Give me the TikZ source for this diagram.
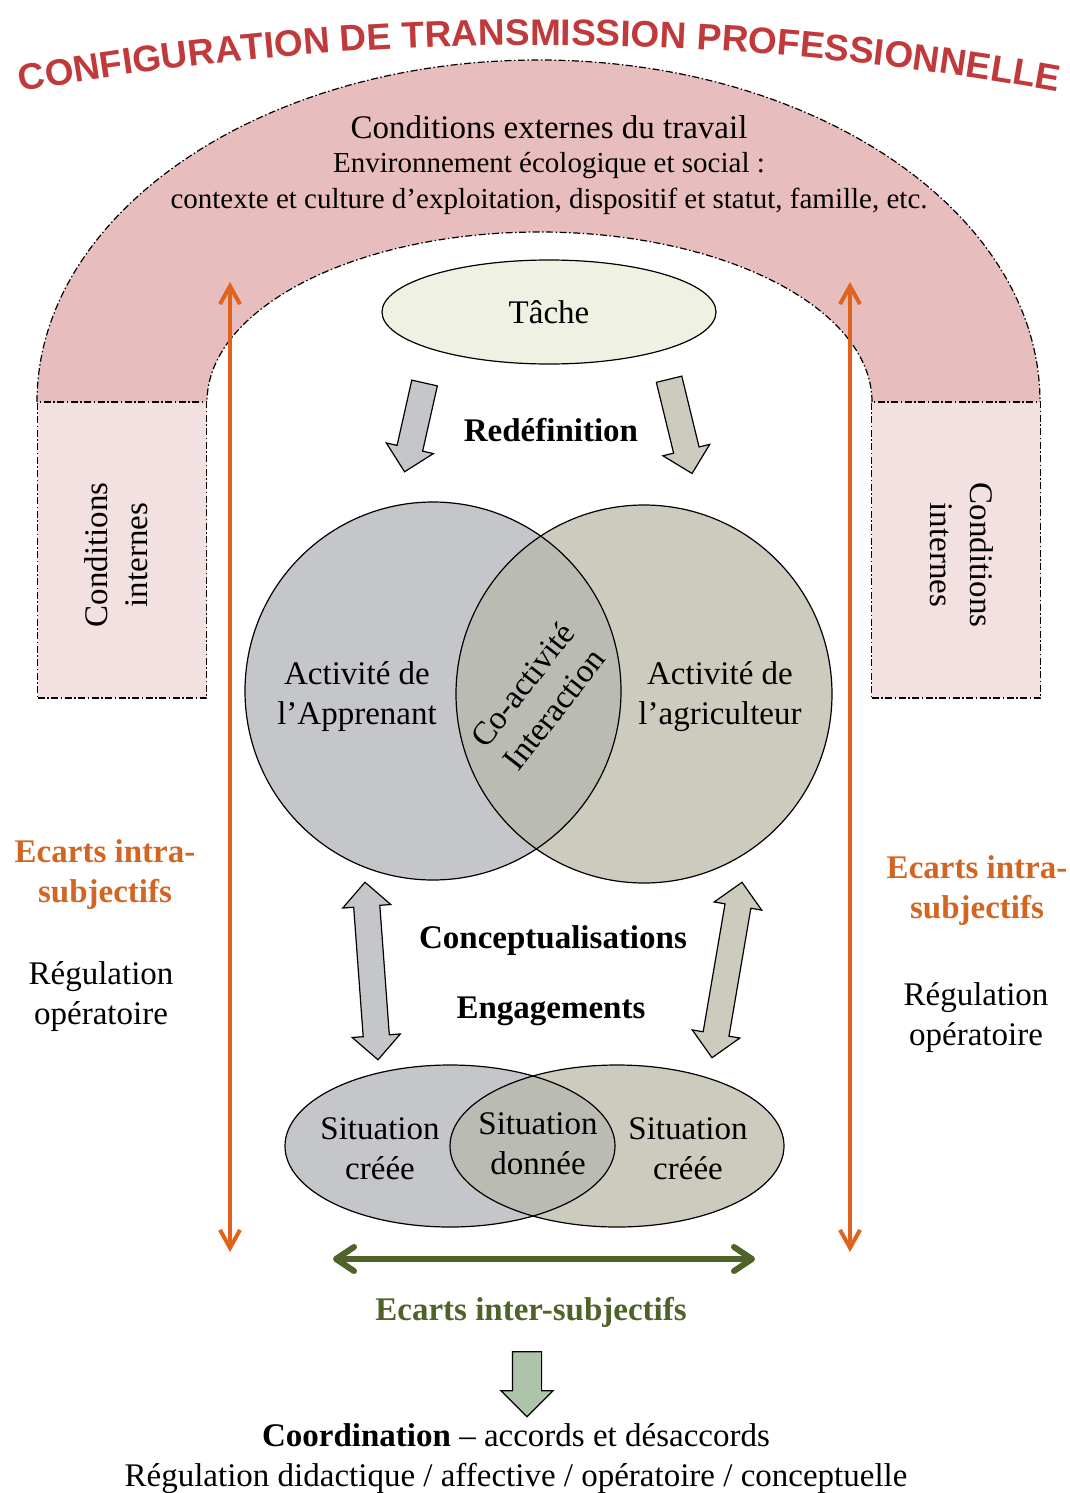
\documentclass[tikz,border=0pt]{standalone}
\usepackage{fontspec}
\setmainfont{Liberation Serif}
\newfontfamily\titlefont{Liberation Sans}
\usetikzlibrary{shapes.geometric,shapes.arrows,arrows.meta,decorations.text}

\definecolor{titlered}{RGB}{192,57,59}
\definecolor{archpink}{RGB}{232,189,190}
\definecolor{sidepink}{RGB}{243,224,225}
\definecolor{apprgray}{RGB}{197,198,202}
\definecolor{agrigray}{RGB}{204,203,189}
\definecolor{overgray}{RGB}{186,187,179}
\definecolor{tachefill}{RGB}{239,242,226}
\definecolor{intraorange}{RGB}{224,98,28}
\definecolor{intratext}{RGB}{210,101,34}
\definecolor{intertext}{RGB}{79,98,40}
\definecolor{coordgreen}{RGB}{173,196,170}

\tikzset{
  txt/.style={font=\fontsize{33}{40}\selectfont, align=center, inner sep=0pt},
  bold/.style={font=\fontsize{33}{40}\selectfont\bfseries, align=center, inner sep=0pt},
  dashdot/.style={line width=1.2pt, dash pattern=on 7pt off 2.5pt on 1.5pt off 2.5pt},
  sidebox/.style={draw, dashdot, fill=sidepink, minimum width=169pt, minimum height=296pt},
  blob/.style={ellipse, inner sep=0pt},
  outline/.style={line width=1.2pt},
  blockarrow/.style={single arrow, draw, line width=1.2pt, inner xsep=0pt, inner ysep=12.5pt,
    single arrow head extend=11pt, minimum height=#1},
  dblarrow/.style={double arrow, draw, line width=1.2pt, inner xsep=0pt, inner ysep=12.5pt,
    double arrow head extend=11pt, minimum height=178pt},
  intra/.style={draw=intraorange, line width=4pt, <->, >={Straight Barb[length=18pt,width=20pt]}},
  inter/.style={draw=intertext, line width=6pt, <->, >={Straight Barb[length=18pt,width=24pt,round]}}
}

\begin{document}
\begin{tikzpicture}[x=1pt,y=-1pt]
\useasboundingbox (0,0) rectangle (1070,1493);

\path[decorate, decoration={text along path, text align=center, text color=titlered,
    text={|\titlefont\bfseries\fontsize{37}{37}\selectfont|CONFIGURATION DE TRANSMISSION PROFESSIONNELLE}}]
  (539,2934) ++(259:2889) arc[start angle=259, end angle=281, radius=2889];

\fill[archpink] (37,402) arc[start angle=180, end angle=360, x radius=501.5, y radius=342]
  -- (872,402) arc[start angle=360, end angle=180, x radius=332.5, y radius=170] -- cycle;
\draw[dashdot] (37,402) arc[start angle=180, end angle=360, x radius=501.5, y radius=342];
\draw[dashdot] (872,402) arc[start angle=360, end angle=180, x radius=332.5, y radius=170];

\node[sidebox] (cil) at (122,550) {};
\node[sidebox] (cir) at (956,550) {};

\begin{scope}[every node/.style={txt}]
  \node (cond) at (549,127) {Conditions externes du travail};
  \node[font=\fontsize{29}{36}\selectfont] (env) at (549,184)
    {Environnement écologique et social :\\contexte et culture d’exploitation, dispositif et statut, famille, etc.};
  \node[rotate=90] (cilt) at (116,555) {Conditions\\internes};
  \node[rotate=-90] (cirt) at (962,555) {Conditions\\internes};
\end{scope}

\node[blob, draw, outline, fill=tachefill, minimum width=334pt, minimum height=104pt, txt] (tache) at (549,312) {Tâche};

\node[blockarrow=91pt, fill=apprgray, rotate=257.3] (redl) at (416,421) {};
\node[blockarrow=97pt, fill=agrigray, rotate=283.7] (redr) at (679,420) {};

\node[blob, fill=apprgray, minimum width=376pt, minimum height=378pt] (appr) at (433,691) {};
\node[blob, fill=agrigray, minimum width=376pt, minimum height=378pt] (agri) at (644,694) {};
\begin{scope}
  \clip (appr.center) ellipse [x radius=188, y radius=189];
  \fill[overgray] (agri.center) ellipse [x radius=188, y radius=189];
\end{scope}
\draw[outline] (appr.center) ellipse [x radius=188, y radius=189];
\draw[outline] (agri.center) ellipse [x radius=188, y radius=189];

\node[dblarrow, fill=apprgray, rotate=-85.8] (concl) at (371.5,971) {};
\node[dblarrow, fill=agrigray, rotate=80.3] (concr) at (727,970) {};

\node[blob, fill=apprgray, minimum width=330pt, minimum height=162pt] (sitl) at (450,1146) {};
\node[blob, fill=agrigray, minimum width=334pt, minimum height=162pt] (sitr) at (617,1146) {};
\begin{scope}
  \clip (sitl.center) ellipse [x radius=165, y radius=81];
  \fill[overgray] (sitr.center) ellipse [x radius=167, y radius=81];
\end{scope}
\draw[outline] (sitl.center) ellipse [x radius=165, y radius=81];
\draw[outline] (sitr.center) ellipse [x radius=167, y radius=81];

\coordinate (ot1) at (230,282);
\coordinate (ob1) at (230,1252);
\coordinate (ot2) at (850,282);
\coordinate (ob2) at (850,1252);
\draw[intra] (ot1) -- (ob1);
\draw[intra] (ot2) -- (ob2);

\coordinate (gl) at (333,1259);
\coordinate (gr) at (755,1259);
\draw[inter] (gl) -- (gr);

\node[single arrow, draw, line width=1.2pt, inner xsep=0pt, inner ysep=14pt, fill=coordgreen,
  minimum height=65pt, single arrow head extend=11.5pt, rotate=270] (coordarr) at (527,1377) {};

\begin{scope}[every node/.style={txt}]
  \node (appt) at (357,697) {Activité de\\l’Apprenant};
  \node (agrt) at (720,697) {Activité de\\l’agriculteur};
  \node[rotate=52] (coact) at (538,697) {Co-activité\\Interaction};
  \node (sitlt) at (380,1149) {Situation\\créée};
  \node (sitmt) at (538,1144) {Situation\\donnée};
  \node (sitrt) at (688,1149) {Situation\\créée};
  \node (regl) at (101,997) {Régulation\\opératoire};
  \node (regr) at (976,1018) {Régulation\\opératoire};
  \node (coord) at (516,1459) {\textbf{Coordination} – accords et désaccords\\Régulation didactique / affective / opératoire / conceptuelle};
\end{scope}

\begin{scope}[every node/.style={bold}]
  \node (redef) at (551,430) {Redéfinition};
  \node (concept) at (553,941) {Conceptualisations};
  \node (engag) at (551,1011) {Engagements};
  \node[text=intratext] (eil) at (105,875) {Ecarts intra-\\subjectifs};
  \node[text=intratext] (eir) at (977,891) {Ecarts intra-\\subjectifs};
  \node[text=intertext] (eint) at (531,1312) {Ecarts inter-subjectifs};
\end{scope}

\end{tikzpicture}
\end{document}
